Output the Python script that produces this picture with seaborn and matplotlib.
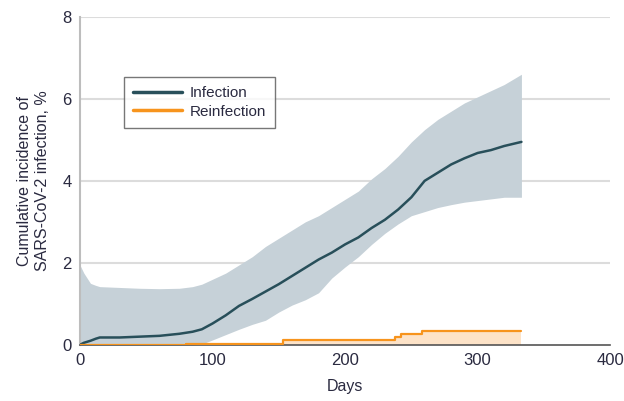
import matplotlib
matplotlib.use("Agg")
import matplotlib.pyplot as plt
import numpy as np
import pandas as pd
import seaborn as sns

sns.set_style("white")
plt.rcParams["font.family"] = ["Liberation Sans", "DejaVu Sans"]

# infection curve (Kaplan-Meier estimate) with 95% CI
days_inf = [0, 3, 8, 12, 15, 30, 45, 60, 75, 85, 92, 100, 110, 120, 130, 140,
            150, 160, 170, 180, 190, 200, 210, 220, 230, 240, 250, 260, 270,
            280, 290, 300, 310, 320, 333]
infection = [0, 0.05, 0.1, 0.15, 0.18, 0.18, 0.2, 0.22, 0.27, 0.32, 0.38, 0.52,
             0.72, 0.95, 1.12, 1.3, 1.48, 1.68, 1.88, 2.08, 2.25, 2.45, 2.62,
             2.85, 3.05, 3.3, 3.6, 4.0, 4.2, 4.4, 4.55, 4.68, 4.75, 4.85, 4.95]
inf_upper = [1.95, 1.75, 1.5, 1.45, 1.42, 1.4, 1.38, 1.37, 1.38, 1.42, 1.48,
             1.6, 1.75, 1.95, 2.15, 2.4, 2.6, 2.8, 3.0, 3.15, 3.35, 3.55, 3.75,
             4.05, 4.3, 4.6, 4.95, 5.25, 5.5, 5.7, 5.9, 6.05, 6.2, 6.35, 6.6]
inf_lower = [0, 0, 0, 0, 0, 0, 0, 0, 0, 0, 0.02, 0.12, 0.25, 0.38, 0.5, 0.6,
             0.8, 0.97, 1.1, 1.27, 1.63, 1.9, 2.15, 2.45, 2.72, 2.95, 3.15,
             3.25, 3.35, 3.42, 3.48, 3.52, 3.56, 3.6, 3.6]

# reinfection curve
days_re = [0, 80, 153, 238, 242, 258, 333]
reinfection = [0, 0.03, 0.13, 0.2, 0.26, 0.33, 0.33]

x_ticks = [0, 100, 200, 300, 400]
y_ticks = [0, 2, 4, 6, 8]

C_INF = "#284f5a"
C_BAND = "#c6d1d8"
C_RE = "#f7941d"
C_RE_FILL = "#fde3c8"

df_inf = pd.DataFrame({"Days": days_inf, "pct": infection})
df_re = pd.DataFrame({"Days": days_re, "pct": reinfection})

fig = plt.figure(figsize=(6.24, 4.01), dpi=100)
ax = fig.add_axes([0.128, 0.14, 0.85, 0.818])

for y in y_ticks[1:]:
    ax.axhline(y, color="#dcdcdc", lw=1.5, zorder=0)

ax.fill_between(days_inf, inf_lower, inf_upper, color=C_BAND, lw=0, zorder=1)
ax.fill_between(days_re, 0, reinfection, step="post",
                color=C_RE_FILL, lw=0, zorder=1)

sns.lineplot(data=df_inf, x="Days", y="pct", ax=ax, color=C_INF, lw=1.8,
             label="Infection", zorder=3)
sns.lineplot(data=df_re, x="Days", y="pct", ax=ax, color=C_RE, lw=1.6,
             drawstyle="steps-post", label="Reinfection", zorder=3)

ax.set_xlim(0, 400)
ax.set_ylim(0, 8)
ax.set_xticks(x_ticks)
ax.set_yticks(y_ticks)
ax.tick_params(axis="both", direction="out", length=4, width=1.5,
               color="#222222", labelsize=12, labelcolor="#2a2a40", pad=2)

for s in ["top", "right"]:
    ax.spines[s].set_visible(False)
ax.spines["left"].set_color("#bdbdbd")
ax.spines["left"].set_linewidth(1.5)
ax.spines["bottom"].set_color("#555555")
ax.spines["bottom"].set_linewidth(1.2)

ax.set_xlabel("Days", fontsize=11.5, color="#2a2a40", labelpad=8)
ax.set_ylabel("Cumulative incidence of\nSARS-CoV-2 infection, %",
              fontsize=11.5, color="#2a2a40", labelpad=9)

leg = ax.legend(loc="upper left", bbox_to_anchor=(0.068, 0.84), fontsize=11,
                frameon=True, fancybox=False, handlelength=3.2,
                borderpad=0.6, labelspacing=0.3, handletextpad=0.5)
leg.get_frame().set_edgecolor("#555555")
leg.get_frame().set_linewidth(1.0)
for line in leg.get_lines():
    line.set_linewidth(2.5)
for t in leg.get_texts():
    t.set_color("#2a2a40")

fig.savefig("out.png", dpi=100)
